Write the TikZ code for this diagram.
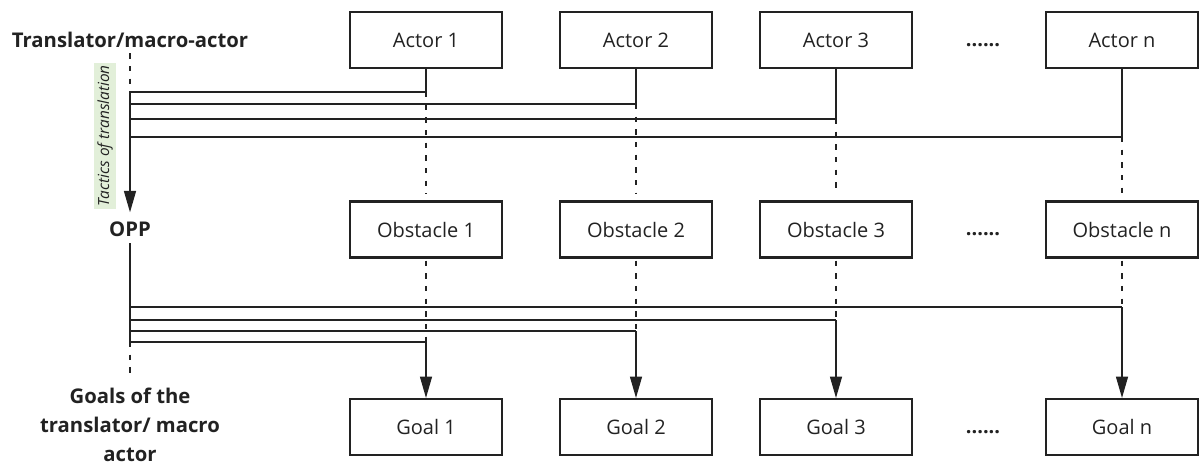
\documentclass[tikz,border=0pt]{standalone}
\usepackage{fontspec}
\setmainfont{Open Sans}
\usetikzlibrary{arrows.meta}
\definecolor{ink}{HTML}{222222}
\definecolor{tacticsbg}{HTML}{E2EFD9}
\begin{document}
\begin{tikzpicture}[x=0.75pt,y=-0.75pt,
  box/.style={draw=ink, line width=1.9pt, minimum width=114.2pt, minimum height=41.7pt,
    inner sep=0pt, font=\fontsize{15}{17}\selectfont, text=ink},
  lbl/.style={font=\bfseries\fontsize{15.2}{21.75}\selectfont, text=ink, inner sep=0pt, align=center},
  dots/.style={font=\bfseries\fontsize{15}{17}\selectfont, text=ink, anchor=base, inner sep=0pt},
  conn/.style={draw=ink, line width=1pt},
  dashln/.style={draw=ink, line width=1pt, dash pattern=on 4pt off 5.5pt},
  arr/.style={-{Triangle[length=16pt,width=9pt]}},
]
\useasboundingbox (0,0) rectangle (1200,465);

% left column labels
\node[lbl] (trans) at (130,40) {Translator/macro-actor};
\node[lbl] (opp) at (130,229) {OPP};
\node[lbl] (goals) at (130,425) {Goals of the\\translator/ macro\\actor};
\node[rotate=90, fill=tacticsbg, inner xsep=1.5pt, inner ysep=2.5pt,
      font=\itshape\fontsize{11.5}{13}\selectfont, text=ink] (tactics) at (105,136) {Tactics of translation};

% boxes and connectors
\foreach \i/\x/\yt/\yb in {1/426/92/342, 2/636/104/331, 3/836/119/320, n/1122/137/307} {
  \node[box] (a\i) at (\x,40) {Actor \i};
  \node[box] (o\i) at (\x,229.5) {Obstacle \i};
  \node[box] (g\i) at (\x,427) {Goal \i};
  \coordinate (ta\i) at (\x,\yt);
  \coordinate (tl\i) at (130,\yt);
  \coordinate (bo\i) at (\x,\yb);
  \coordinate (bl\i) at (130,\yb);
  \draw[conn] (a\i.south) -- (ta\i) -- (tl\i);
  \draw[dashln, shorten >=5pt] (ta\i) -- (o\i.north);
  \draw[dashln, shorten <=1.5pt] (o\i.south) -- (bo\i);
  \draw[conn] (bl\i) -- (bo\i);
  \draw[conn, arr] (bo\i) -- (g\i.north);
}

% ellipses
\node[dots] (d1) at (983,46) {......};
\node[dots] (d2) at (983,235.5) {......};
\node[dots] (d3) at (983,433) {......};

% left spine
\coordinate (gend) at (130,378);
\draw[dashln, shorten <=4pt] (trans.south) -- (tl1);
\draw[conn, arr, shorten >=6.75pt] (tl1) -- (opp.north);
\draw[conn, shorten <=5pt] (opp.south) -- (bl1);
\draw[dashln] (bl1) -- (gend);
\end{tikzpicture}
\end{document}
